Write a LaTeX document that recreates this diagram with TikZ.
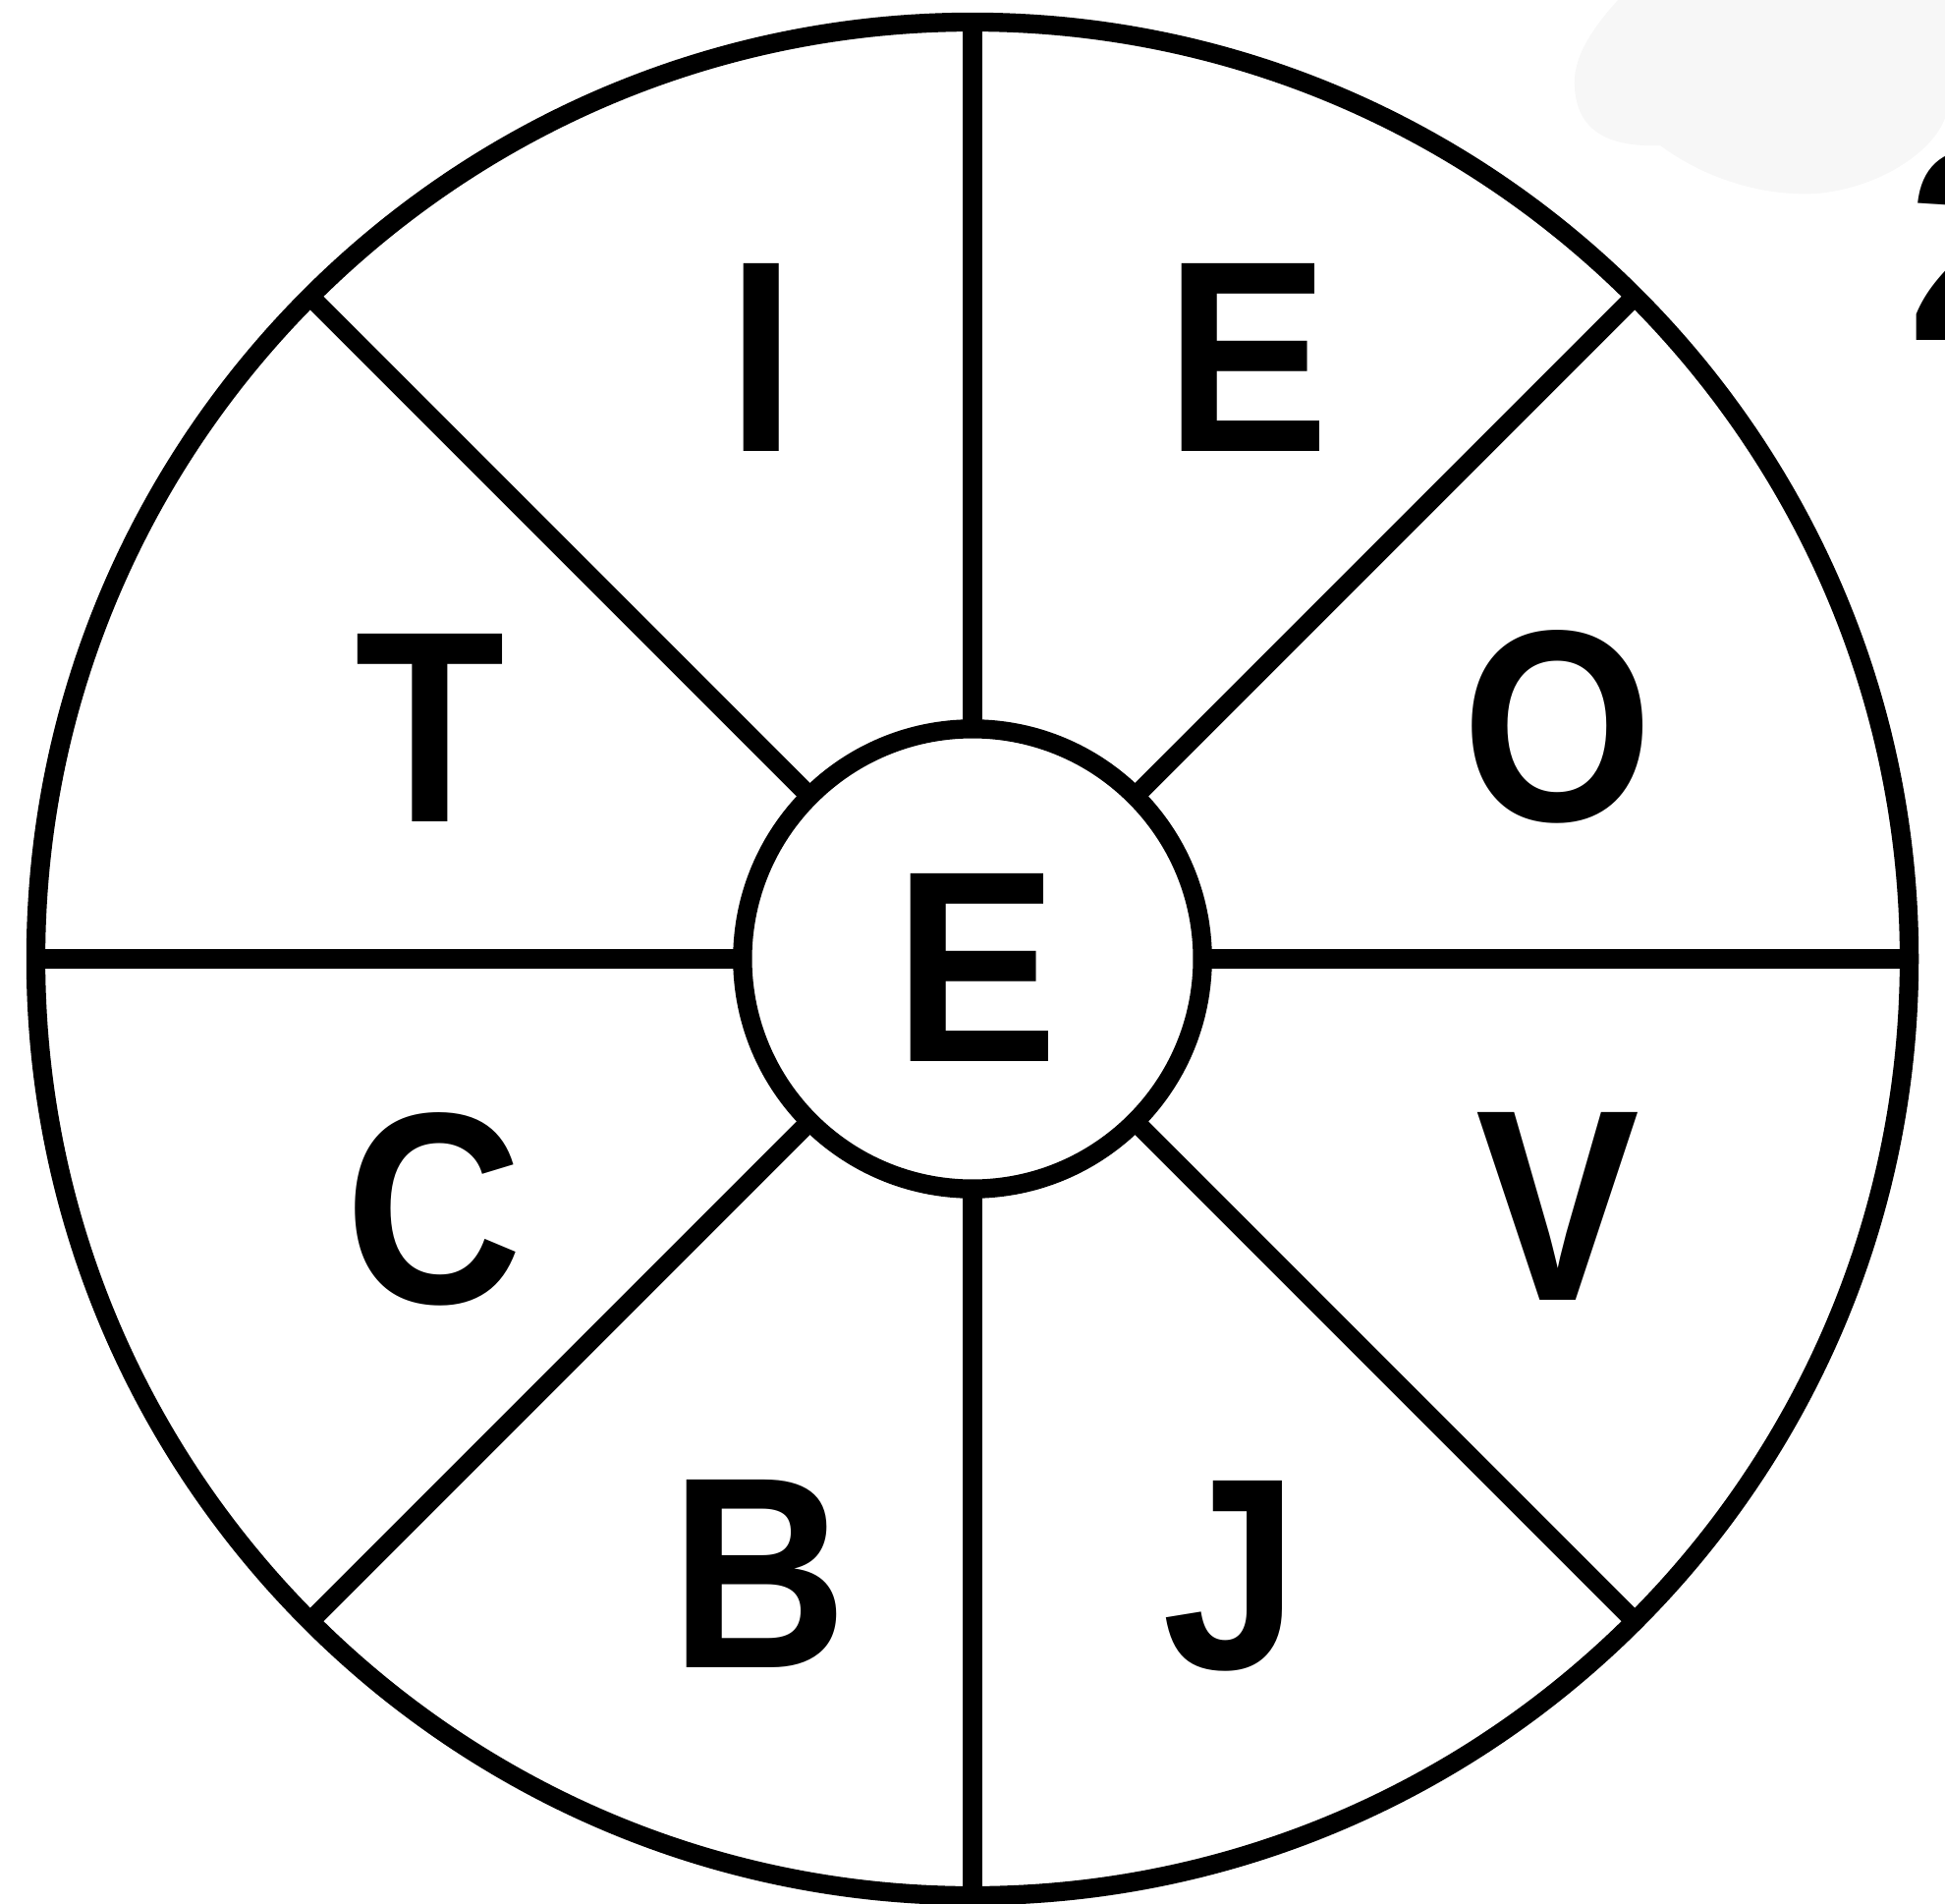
\documentclass[tikz,border=0pt]{standalone}
\usepackage{fontspec}
\setmainfont{Liberation Sans}
\usepackage{tikz}

\begin{document}
\begin{tikzpicture}[x=0.01cm, y=-0.01cm, every node/.style={outer sep=0pt, inner sep=0pt}]
		\tikzstyle{ring}=[draw,shape=circle,line width=5.5pt,minimum size=19.06cm]
		\tikzstyle{hub}=[draw,shape=circle,line width=5.5pt,fill=white,minimum size=4.68cm]
		\tikzstyle{spoke}=[line width=5.5pt]
		\tikzstyle{letter}=[font=\fontsize{79}{79}\selectfont\bfseries, xscale=0.9]

		\useasboundingbox (0,0) rectangle (1980,1937);

    % faint smudge in the corner
		\fill[black!3] (1647,0) .. controls (1620,30) and (1600,60) .. (1603,90)
			.. controls (1606,135) and (1640,150) .. (1690,148)
			.. controls (1740,185) and (1800,200) .. (1850,197)
			.. controls (1920,190) and (1970,150) .. (1980,120)
			-- (1980,0) -- cycle;

    % Wheel
		\node[ring](outer) at (990,976){};
		\node[hub](inner) at (990,976){};

    % Spokes
		\draw[spoke] (inner.90) -- (outer.90);
		\draw[spoke] (inner.45) -- (outer.45);
		\draw[spoke] (inner.0) -- (outer.0);
		\draw[spoke] (inner.-45) -- (outer.-45);
		\draw[spoke] (inner.-90) -- (outer.-90);
		\draw[spoke] (inner.-135) -- (outer.-135);
		\draw[spoke] (inner.180) -- (outer.180);
		\draw[spoke] (inner.135) -- (outer.135);

    % Letters
		\node[letter](mid) at (994,985){E};
		\node[letter](i) at (775,364){I};
		\node[letter](e) at (1270,364){E};
		\node[letter](o) at (1586,740){O};
		\node[letter](v) at (1586,1228){V};
		\node[letter](j) at (1253,1604){J};
		\node[letter](b) at (773,1602){B};
		\node[letter](c) at (442,1231){C};
		\node[letter](t) at (438,741){T};

		\node[letter, anchor=west](num) at (1942,250){2};

  \end{tikzpicture}
\end{document}
